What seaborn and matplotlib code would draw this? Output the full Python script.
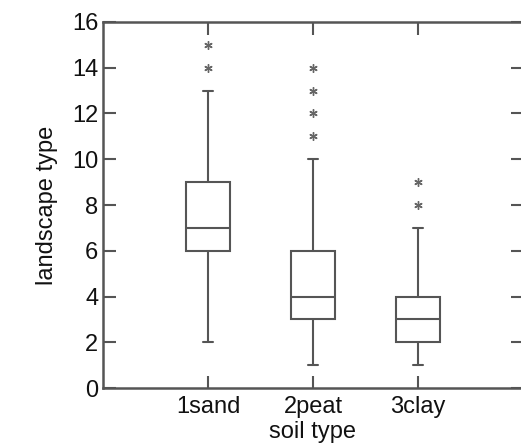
import numpy as np
import pandas as pd
import matplotlib
matplotlib.use("Agg")
import matplotlib.pyplot as plt
import seaborn as sns

# datos (observaciones por tipo de suelo)
suelo_labels = ["1sand", "2peat", "3clay"]
sand_vals = [2, 4, 5, 6, 6, 6, 7, 7, 7, 8, 9, 9, 9, 10, 13, 14, 15]
peat_vals = [1, 2, 2, 3, 3, 3, 3, 4, 4, 4, 4, 5, 5, 5, 6, 6, 10, 11, 12, 13, 14]
clay_vals = [1, 1, 2, 2, 2, 2, 3, 3, 3, 3, 4, 4, 4, 5, 7, 8, 9]
y_ticks = [0, 2, 4, 6, 8, 10, 12, 14, 16]

df = pd.DataFrame({
    "soil": [suelo_labels[0]] * len(sand_vals)
            + [suelo_labels[1]] * len(peat_vals)
            + [suelo_labels[2]] * len(clay_vals),
    "landscape": sand_vals + peat_vals + clay_vals,
})

sns.set_style("ticks")
plt.rcParams["font.family"] = ["Liberation Sans", "DejaVu Sans"]

gris = "#555555"
fig = plt.figure(figsize=(5.21, 4.48), dpi=100)
ax = fig.add_axes([103 / 521, 60 / 448, 420 / 521, 366 / 448])

sns.boxplot(
    data=df, x="soil", y="landscape", order=suelo_labels, ax=ax,
    color="white", saturation=1, linecolor=gris, linewidth=1.5,
    width=0.41, whis=1.5, capwidths=0.1,
    flierprops={"marker": (6, 2, 0), "markersize": 6, "markeredgecolor": "#666666",
                "markeredgewidth": 1.0},
)

ax.set_xlim(-1, 3)
ax.set_ylim(0, 16)
ax.set_yticks(y_ticks)
ax.tick_params(direction="in", length=9, width=1.5, color=gris,
               top=True, right=True, labelsize=17, labelcolor="#111111")
ax.tick_params(axis="x", pad=6)
for s in ax.spines.values():
    s.set_color(gris)
    s.set_linewidth(1.8)

ax.set_xlabel("soil type", fontsize=17, color="#111111", labelpad=2)
ax.set_ylabel("landscape type", fontsize=17, color="#111111", labelpad=10)

fig.savefig("out.png", dpi=100)
